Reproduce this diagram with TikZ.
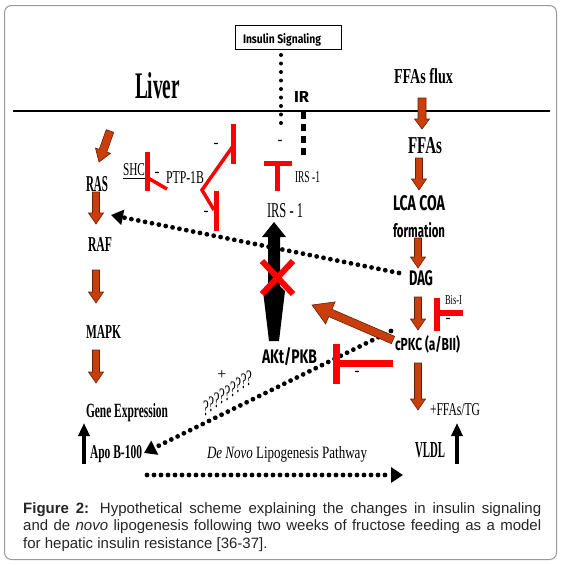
\documentclass[tikz,border=0pt]{standalone}
\usepackage{fontspec}
\setmainfont{Liberation Serif}
\newfontfamily\arialf{Liberation Sans}
\newfontfamily\comicf{Fira Sans}
\usetikzlibrary{calc,arrows.meta}
\definecolor{brfill}{RGB}{200,62,12}
\definecolor{brline}{RGB}{105,32,8}
\definecolor{inhred}{RGB}{255,0,0}
\newcommand\fitt[3]{\resizebox{#1pt}{#2pt}{#3}}
% #1 shaft half width, #2 head half width, #3 head length, #4 from, #5 to
\newcommand\brarrow[5]{%
  \filldraw[fill=brfill, draw=brline, line width=0.6pt, line join=miter]
  ($(#4)!#1pt!90:(#5)$) -- ($(#5)!#3pt!(#4)!#1pt!-90:(#4)$) --
  ($(#5)!#3pt!(#4)!#2pt!-90:(#4)$) -- (#5) --
  ($(#5)!#3pt!(#4)!#2pt!90:(#4)$) -- ($(#5)!#3pt!(#4)!#1pt!90:(#4)$) --
  ($(#4)!#1pt!-90:(#5)$) -- cycle;}
\begin{document}
\begin{tikzpicture}[x=1pt,y=-1pt,
  lbl/.style={inner sep=0pt, outer sep=0pt, anchor=base west},
  mid/.style={inner sep=0pt, outer sep=0pt},
  inh/.style={draw=inhred, line cap=butt},
  dotline/.style={line width=4.8pt, dash pattern=on 0pt off 7pt, line cap=round},
  dotarrow/.style={dotline, -{Triangle[width=15pt,length=12pt]}},
  blkup/.style={line width=4pt, -{Triangle[width=11pt,length=13pt]}},
  capt/.style={inner sep=0pt, anchor=base west, font=\arialf\fontsize{15}{18}\selectfont, text=black!85}]
\useasboundingbox (0,0) rectangle (561,565);
\fill[white] (0,0) rectangle (561,565);
\draw[black!40, line width=1pt, rounded corners=7pt] (4.5,5.5) rectangle (556.5,559.5);

% membrane line
\coordinate (mL) at (13,111); \coordinate (mR) at (550,111);
\draw[line width=1.2pt] (mL) -- (mR);

% Insulin signaling box
\node[draw, line width=0.9pt, minimum width=106pt, minimum height=24pt, inner sep=0pt] (isbox) at (288,37) {};
\node[lbl] (ins) at (243,43) {\fitt{78}{10}{\comicf\bfseries Insulin Signaling}};

% top labels
\node[lbl] (liver) at (135,98) {\fitt{45}{26}{\bfseries Liver}};
\node[lbl] (ir) at (294,102) {\fitt{15}{11}{\comicf\bfseries IR}};
\node[lbl] (ffaflux) at (394,83) {\fitt{59}{15}{\bfseries FFAs flux}};

% right column
\node[lbl] (ffas) at (408,153) {\fitt{34}{16}{\bfseries FFAs}};
\node[lbl] (lca) at (393,210) {\fitt{52}{15}{\comicf\bfseries LCA COA}};
\node[lbl] (form) at (393,237) {\fitt{52}{15}{\comicf\bfseries formation}};
\node[lbl] (dag) at (409,285) {\fitt{24}{15}{\comicf\bfseries DAG}};
\node[lbl] (cpkc) at (395,350) {\fitt{65}{15}{\comicf\bfseries cPKC (a/BII)}};
\node[lbl] (bis) at (445,304) {\fitt{17}{9}{Bis-I}};
\node[lbl] (fftg) at (430,415) {\fitt{50}{12}{+FFAs/TG}};
\node[lbl] (vldl) at (415,457) {\fitt{30}{15}{\bfseries VLDL}};

% centre
\node[lbl] (irs1) at (267,217) {\fitt{36}{14}{IRS - 1}};
\node[lbl] (irs1s) at (295,182) {\fitt{25}{11}{IRS -1}};
\node[lbl] (akt) at (262,363) {\fitt{55}{16}{\comicf\bfseries AKt/PKB}};
\node[lbl] (ptp) at (166,183) {\fitt{38}{12}{PTP-1B}};
\node[lbl] (shc) at (123,175) {\fitt{22}{12}{SHC}};
\coordinate (shcu1) at (123,178.5); \coordinate (shcu2) at (146,178.5);
\draw[line width=0.8pt] (shcu1) -- (shcu2);

% left column
\node[lbl] (ras) at (86,191) {\fitt{22}{15}{\bfseries RAS}};
\node[lbl] (raf) at (88,251) {\fitt{24}{14}{\bfseries RAF}};
\node[lbl] (mapk) at (86,338) {\fitt{35}{13}{\bfseries MAPK}};
\node[lbl] (gene) at (86,417) {\fitt{82}{14}{\bfseries Gene Expression}};
\node[lbl] (apo) at (90,458) {\fitt{52}{13}{\bfseries Apo B-100}};
\node[lbl] (denovo) at (207,458) {\fitt{160}{12}{\textit{De Novo} Lipogenesis Pathway}};

% plus and question marks
\node[mid] (plus) at (222,375) {\fontsize{16}{16}\selectfont +};
\foreach \i in {0,...,8}{
  \node[lbl] (q\i) at ({203+5.4*\i},{415-3.75*\i}) {\scalebox{1}[1.7]{\fontsize{13}{13}\selectfont ?}};
}

% minus signs
\foreach \n/\x/\y in {m1/157/174, m2/216/145, m3/206/213, m4/280/142, m5/357/373, m6/448/320}{
  \node[mid] (\n) at (\x,\y) {\fontsize{15}{15}\selectfont\bfseries -};
}

% dotted connectors
\coordinate (is1) at (281,55); \coordinate (is2) at (281,128);
\draw[line width=4pt, dash pattern=on 0pt off 8.5pt, line cap=round] (is1) -- (is2);
\coordinate (ir1) at (303,112); \coordinate (ir2) at (303,157);
\draw[line width=5pt, dash pattern=on 7pt off 5pt] (ir1) -- (ir2);
\coordinate (d1s) at (399,273); \coordinate (d1e) at (111,215);
\draw[dotarrow] (d1s) -- (d1e);
\coordinate (d2s) at (391,331); \coordinate (d2e) at (144,453);
\draw[dotarrow] (d2s) -- (d2e);
\coordinate (d3s) at (147,475); \coordinate (d3e) at (403,475);
\draw[dotarrow] (d3s) -- (d3e);

% big black double arrow IRS-1 <-> AKt/PKB
\fill[line join=round] (274,222) -- (286,237) -- (280,237) -- (280,286) -- (285,291) -- (279,341)
  -- (269,341) -- (263,291) -- (268,286) -- (268,237) -- (262,237) -- cycle;

% red cross
\draw[inh, line width=6pt] (262,261) -- (293,294);
\draw[inh, line width=6pt] (293,261) -- (262,294);

% black up arrows
\coordinate (ua1) at (84,464); \coordinate (ua2) at (84,423);
\draw[blkup] (ua1) -- (ua2);
\coordinate (ub1) at (457,464); \coordinate (ub2) at (457,423);
\draw[blkup] (ub1) -- (ub2);

% brown block arrows
\coordinate (f0) at (422,98);  \coordinate (f1) at (422,129);
\coordinate (f2) at (419,158); \coordinate (f3) at (419,190);
\coordinate (f4) at (418,238); \coordinate (f5) at (418,268);
\coordinate (f6) at (418,297); \coordinate (f7) at (418,330);
\coordinate (f8) at (418,363); \coordinate (f9) at (418,410);
\coordinate (l0) at (96,192);  \coordinate (l1) at (96,224);
\coordinate (l2) at (96,270);  \coordinate (l3) at (96,303);
\coordinate (l4) at (96,350);  \coordinate (l5) at (96,383);
\coordinate (r0) at (110,131); \coordinate (r1) at (99,162);
\coordinate (c0) at (393,340); \coordinate (c1) at (312,305);
\brarrow{4}{7.5}{10}{f0}{f1}
\brarrow{3.5}{7.5}{11}{f2}{f3}
\brarrow{3.5}{7.5}{11}{f4}{f5}
\brarrow{3.5}{7.5}{11}{f6}{f7}
\brarrow{3.5}{7.5}{11}{f8}{f9}
\brarrow{3.5}{7.5}{11}{l0}{l1}
\brarrow{3.5}{7.5}{11}{l2}{l3}
\brarrow{3.5}{7.5}{11}{l4}{l5}
\brarrow{4}{8}{12}{r0}{r1}
\brarrow{4}{12}{20}{c0}{c1}

% red inhibition marks
\draw[inh, line width=5pt] (264,163) -- (292,163);
\draw[inh, line width=5pt] (277,163) -- (277,191);
\draw[inh, line width=5pt] (147,152) -- (147,191);
\draw[inh, line width=3.5pt] (148,178) -- (167,189);
\draw[inh, line width=5pt] (233,124) -- (233,164);
\draw[inh, line width=5pt] (216,191) -- (216,231);
\draw[inh, line width=3.5pt, line join=miter] (233,146) -- (202,190) -- (214,210);
\draw[inh, line width=7pt] (336,344) -- (336,384);
\draw[inh, line width=7pt] (336,363) -- (393,363);
\draw[inh, line width=5.5pt] (437,298) -- (437,331);
\draw[inh, line width=6pt] (437,313) -- (463,313);

% caption
\node[capt] (cap1) at (23,513) {\makebox[518pt][s]{\textbf{Figure 2:} Hypothetical scheme explaining the changes in insulin signaling}};
\node[capt] (cap2) at (23,530.5) {\makebox[518pt][s]{and de \textit{novo} lipogenesis following two weeks of fructose feeding as a model}};
\node[capt] (cap3) at (23,548) {for hepatic insulin resistance [36-37].};
\end{tikzpicture}
\end{document}
